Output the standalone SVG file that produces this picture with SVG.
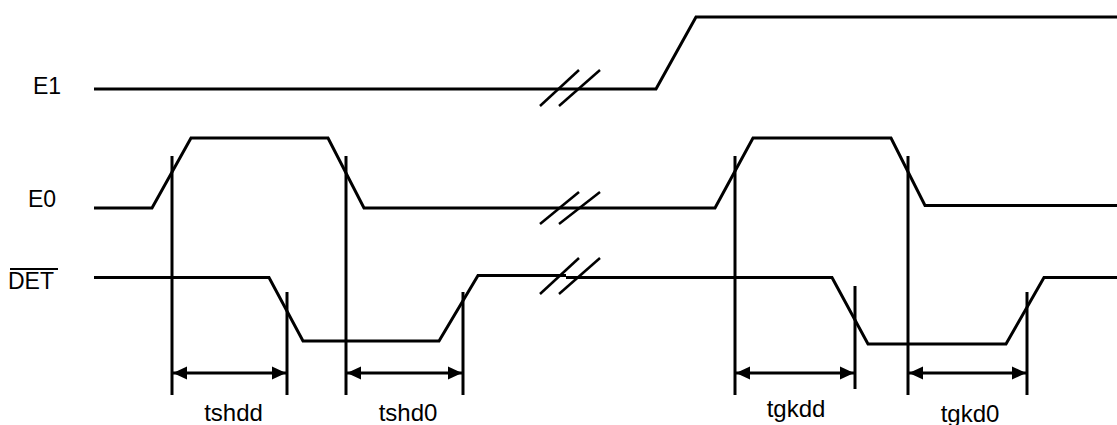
<svg xmlns="http://www.w3.org/2000/svg" width="1117" height="425" viewBox="0 0 1117 425">
<style>
.sig{fill:none;stroke:#000;stroke-width:3;stroke-linejoin:miter}
.brk{fill:none;stroke:#000;stroke-width:2.5}
.vl{stroke:#000;stroke-width:3}
.dim{stroke:#000;stroke-width:3;marker-start:url(#ah);marker-end:url(#ah)}
.lbl{font-family:"Liberation Sans",Arial,Helvetica,sans-serif;font-size:23px;fill:#000}
.dl{font-family:"Liberation Sans",Arial,Helvetica,sans-serif;font-size:24px;fill:#000;text-anchor:middle}
</style>
<defs>
<marker id="ah" markerUnits="userSpaceOnUse" markerWidth="16" markerHeight="14" refX="15" refY="7" orient="auto-start-reverse">
<path d="M1,0.5 L15,7 L1,13.5 Z" fill="#000"/>
</marker>
</defs>
<g id="labels">
<text class="lbl" x="33" y="94">E1</text>
<text class="lbl" x="28" y="207">E0</text>
<text class="lbl" x="8" y="289">DET</text>
<line x1="10" y1="269" x2="58" y2="269" stroke="#000" stroke-width="2"/>
</g>
<g id="E1">
<polyline class="sig" points="94,89 656,89 696,17 1117,17"/>
<line class="brk" x1="540" y1="106" x2="579" y2="70"/>
<line class="brk" x1="559" y1="106" x2="600" y2="70"/>
</g>
<g id="E0">
<polyline class="sig" points="94,208 152,208 191,138 328,138 364,208 715,208 753,138 891,138 925,205.5 1117,205.5"/>
<line class="brk" x1="540" y1="224" x2="579" y2="192"/>
<line class="brk" x1="559" y1="224" x2="600" y2="192"/>
</g>
<g id="DET">
<polyline class="sig" points="94,277.5 269,277.5 303,341 439,341 478,275.5 566,275.5"/>
<polyline class="sig" points="566,277.5 832,277.5 868,344 1006,344 1044,277.5 1117,277.5"/>
<line class="brk" x1="540" y1="294" x2="579" y2="258"/>
<line class="brk" x1="559" y1="294" x2="600" y2="258"/>
</g>
<g id="connectors">
<line class="vl" x1="172" y1="156" x2="172" y2="395"/>
<line class="vl" x1="346" y1="156" x2="346" y2="395"/>
<line class="vl" x1="287" y1="292" x2="287" y2="395"/>
<line class="vl" x1="463" y1="292" x2="463" y2="395"/>
<line class="vl" x1="735" y1="156" x2="735" y2="395"/>
<line class="vl" x1="908" y1="156" x2="908" y2="395"/>
<line class="vl" x1="855" y1="286" x2="855" y2="389"/>
<line class="vl" x1="1027" y1="292" x2="1027" y2="395"/>
<line class="dim" x1="173" y1="373" x2="286" y2="373"/>
<line class="dim" x1="347" y1="373" x2="462" y2="373"/>
<line class="dim" x1="736" y1="373" x2="854" y2="373"/>
<line class="dim" x1="909" y1="373" x2="1026" y2="373"/>
</g>
<g id="dimlabels">
<text class="dl" x="233.5" y="421">tshdd</text>
<text class="dl" x="408" y="421">tshd0</text>
<text class="dl" x="796" y="417">tgkdd</text>
<text class="dl" x="970" y="422">tgkd0</text>
</g>
</svg>
